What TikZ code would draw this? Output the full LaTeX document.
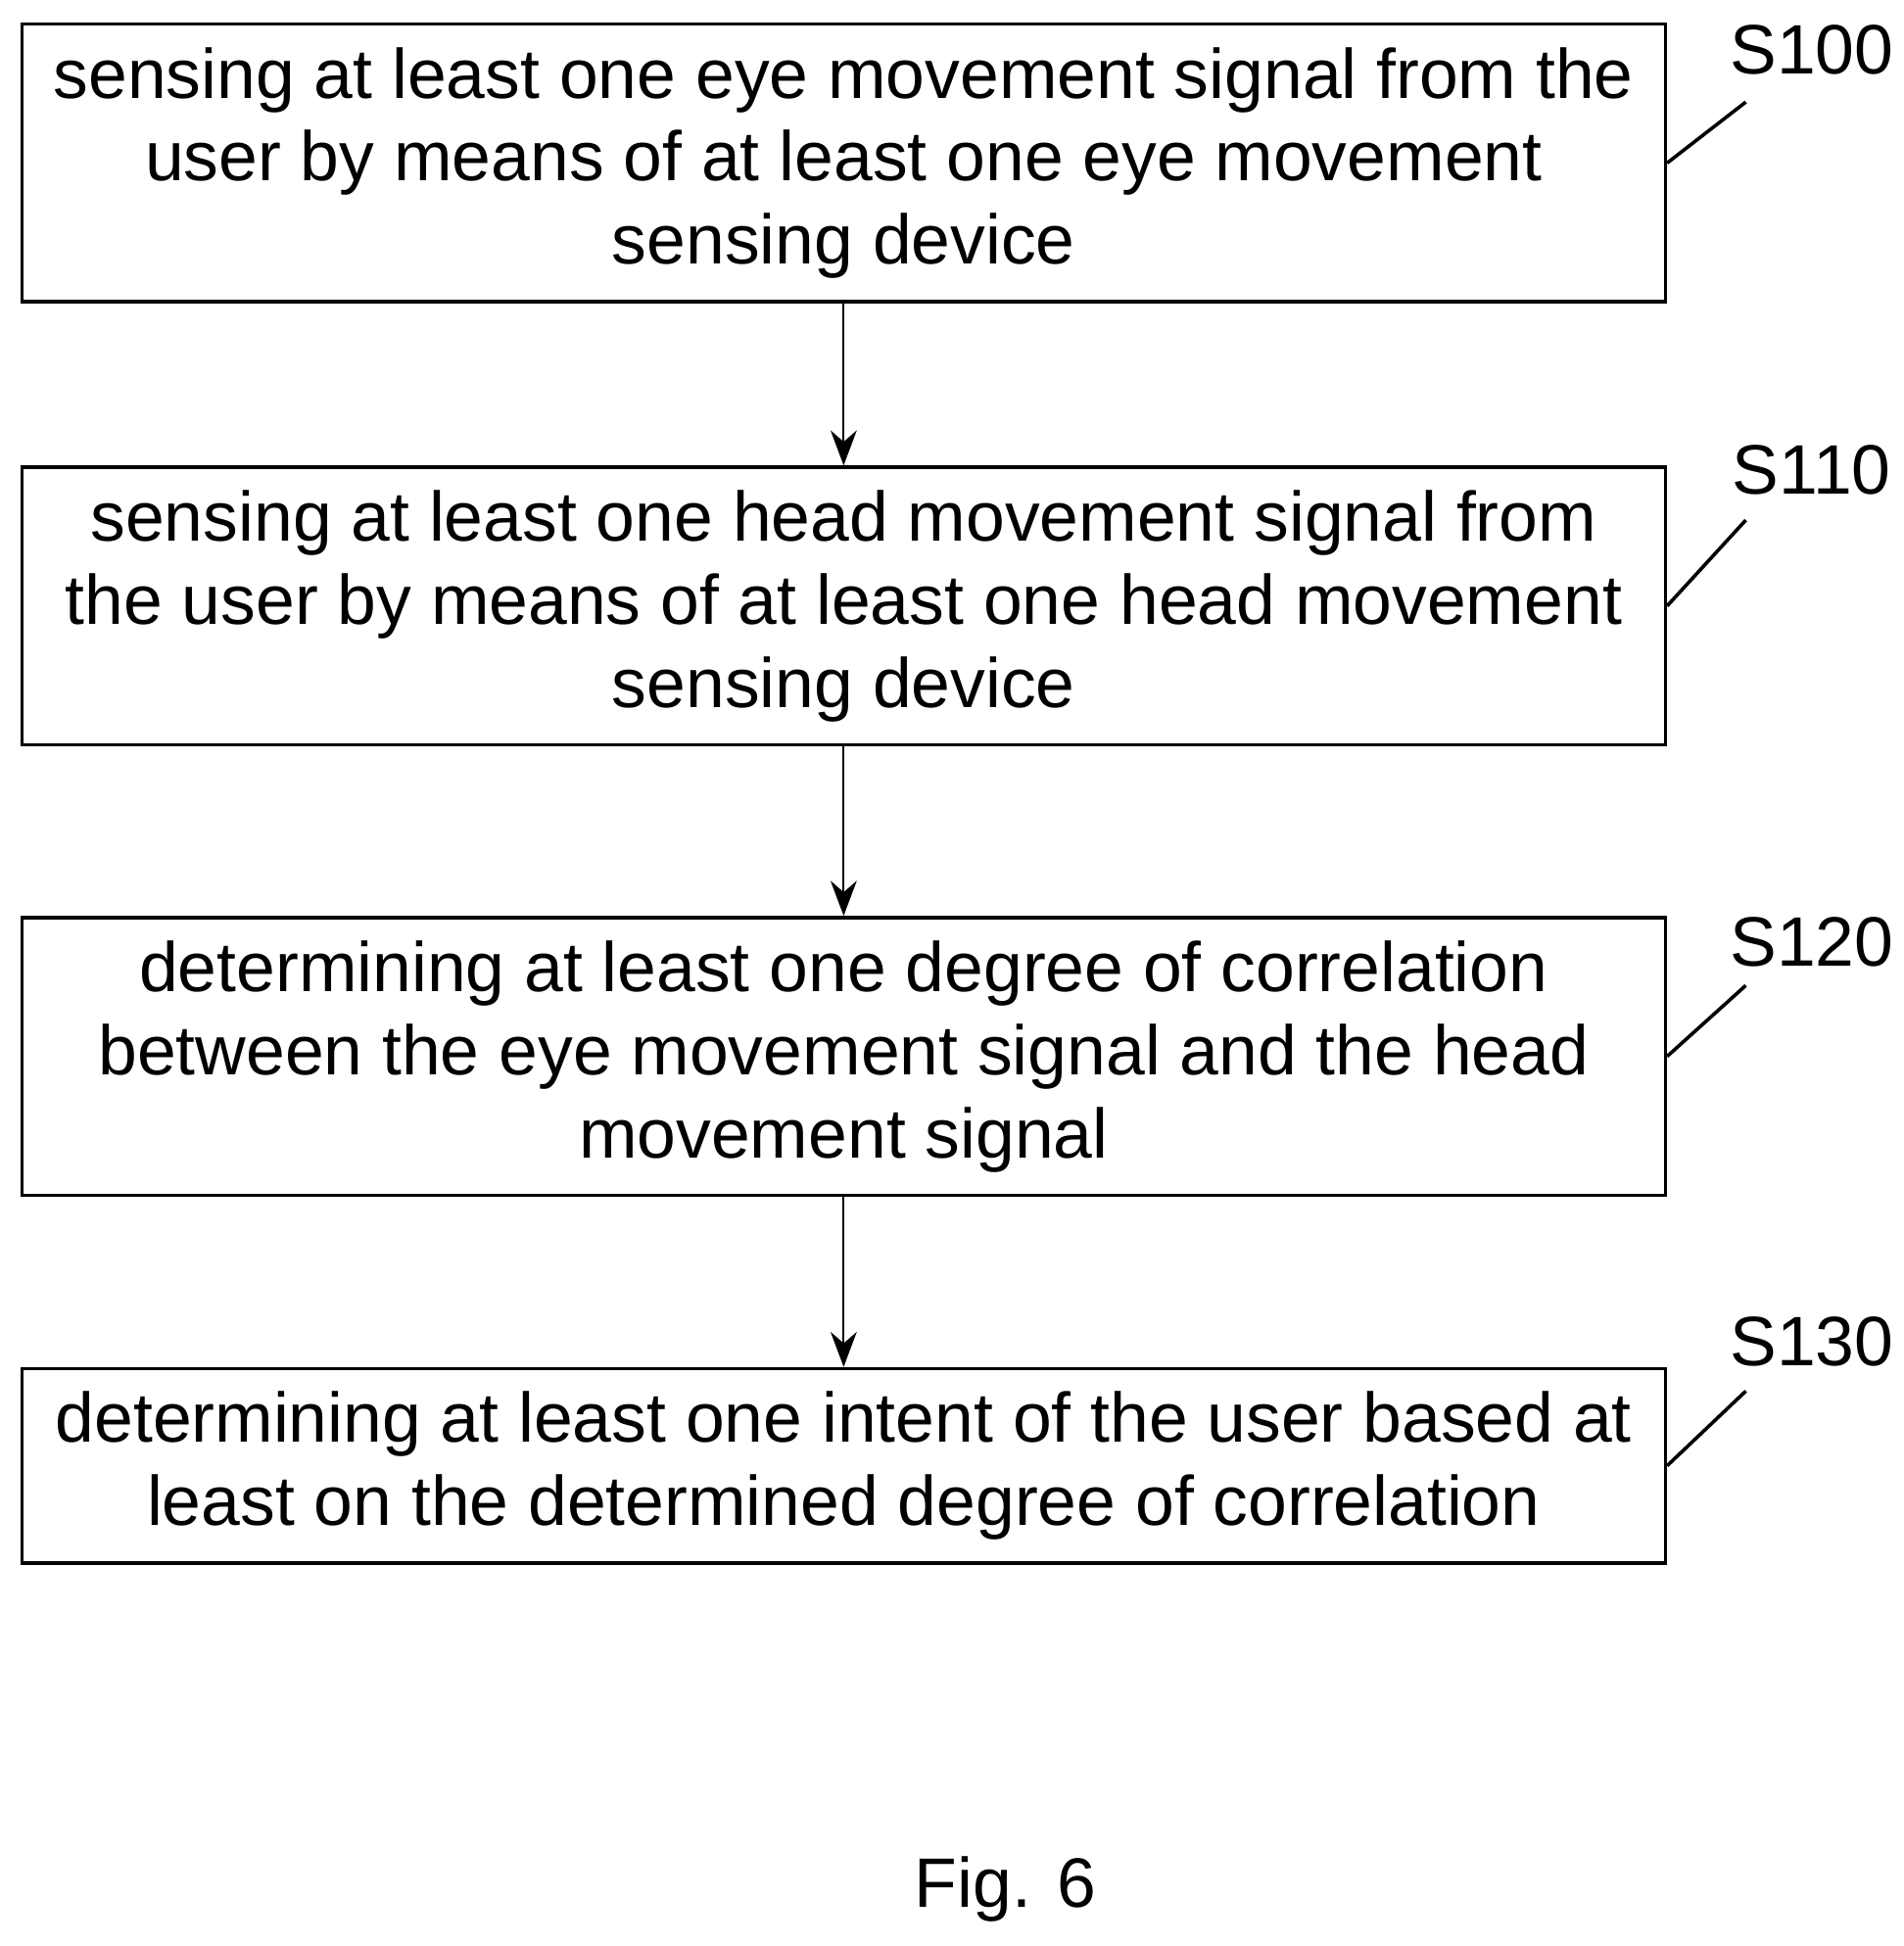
\documentclass[tikz,border=0pt]{standalone}
\usepackage{fontspec}
\setmainfont{Liberation Sans}
\usetikzlibrary{arrows.meta}
\begin{document}
\begin{tikzpicture}[x=0.01cm, y=-0.01cm]
	\tikzstyle{stepnode}=[
	draw,
	thick,
	rectangle,
	align=center,
	minimum width=13.2cm,
	font=\fontsize{16}{19}\selectfont
	]
	\tikzstyle{steplabel}=[font=\fontsize{16}{19}\selectfont]
	\tikzstyle{flow}=[thin, -{Stealth[length=8pt, width=6pt]}]
	\useasboundingbox (0,0) rectangle (1530,1564);
	\node[stepnode, minimum height=2.23cm] (S100) at (678,131) {sensing at least one eye movement signal from the\\user by means of at least one eye movement\\sensing device};
	\node[stepnode, minimum height=2.23cm] (S110) at (678,487) {sensing at least one head movement signal from\\the user by means of at least one head movement\\sensing device};
	\node[stepnode, minimum height=2.23cm] (S120) at (678,849) {determining at least one degree of correlation\\between the eye movement signal and the head\\movement signal};
	\node[stepnode, minimum height=1.56cm] (S130) at (678,1178) {determining at least one intent of the user based at\\least on the determined degree of correlation};
	%
	\draw[flow] (S100) -- (S110);
	\draw[flow] (S110) -- (S120);
	\draw[flow] (S120) -- (S130);
	%
	\node[steplabel] (L100) at (1456,40) {S100};
	\node[steplabel] (L110) at (1456,378) {S110};
	\node[steplabel] (L120) at (1456,757) {S120};
	\node[steplabel] (L130) at (1456,1078) {S130};
	\draw[thick] (S100.east) -- (1403,82);
	\draw[thick] (S110.east) -- (1403,418);
	\draw[thick] (S120.east) -- (1403,792);
	\draw[thick] (S130.east) -- (1403,1118);
	%
	\node[steplabel] (fig) at (808,1518) {Fig. 6};
\end{tikzpicture}
\end{document}
